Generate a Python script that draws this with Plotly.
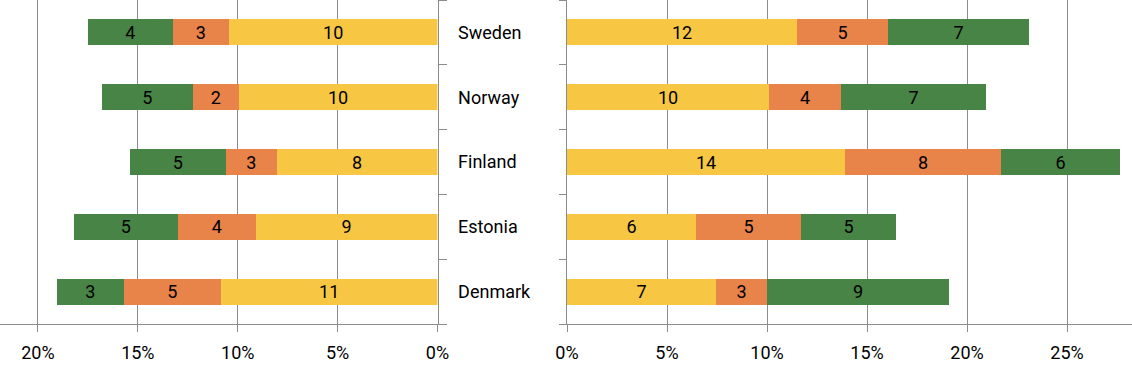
import plotly.graph_objects as go

countries = ["Sweden", "Norway", "Finland", "Estonia", "Denmark"]

left_yellow = [10.45, 9.95, 8.05, 9.1, 10.85]
left_orange = [2.8, 2.3, 2.55, 3.9, 4.85]
left_green = [4.25, 4.55, 4.8, 5.2, 3.35]

right_yellow = [11.5, 10.1, 13.9, 6.45, 7.45]
right_orange = [4.55, 3.6, 7.8, 5.25, 2.55]
right_green = [7.05, 7.25, 5.95, 4.75, 9.1]

left_ticks = [20, 15, 10, 5, 0]
right_ticks = [0, 5, 10, 15, 20, 25]

YELLOW = "#F7C744"
ORANGE = "#E8834A"
GREEN = "#478445"
GRID = "#8C8C8C"
FONT = "Roboto"
FS = 18

fig = go.Figure()

def add(vals, color, xa):
    fig.add_trace(go.Bar(
        y=countries, x=vals, orientation="h", marker_color=color,
        marker_line_width=0, width=0.4, xaxis=xa, yaxis="y" if xa == "x" else "y2",
        texttemplate="%{x:.0f}", textposition="inside", insidetextanchor="middle",
        textangle=0,
        textfont=dict(color="black", size=FS, family=FONT), constraintext="none",
        showlegend=False, hoverinfo="skip"))

add(left_yellow, YELLOW, "x")
add(left_orange, ORANGE, "x")
add(left_green, GREEN, "x")
add(right_yellow, YELLOW, "x2")
add(right_orange, ORANGE, "x2")
add(right_green, GREEN, "x2")

W, H = 1132, 377
left_end = 437.5 / W
right_start = 567 / W

fig.update_layout(
    width=W, height=H, barmode="stack", bargap=0.6,
    margin=dict(l=0, r=0, t=0, b=53, autoexpand=False),
    paper_bgcolor="white", plot_bgcolor="white",
    font=dict(family=FONT, size=FS, color="black"),
    xaxis=dict(domain=[0, left_end], range=[21.9, 0], tickvals=left_ticks,
               ticktext=[f"{v}%" for v in left_ticks],
               showgrid=True, gridcolor=GRID, gridwidth=1, zeroline=False,
               showline=True, linecolor=GRID, linewidth=1,
               ticks="outside", ticklen=7, tickcolor=GRID, automargin=False,
               ticklabelstandoff=5,
               tickfont=dict(size=FS, family=FONT), anchor="y"),
    xaxis2=dict(domain=[right_start, 1], range=[0, 28.25], tickvals=right_ticks,
                ticktext=[f"{v}%" for v in right_ticks],
                showgrid=True, gridcolor=GRID, gridwidth=1, zeroline=False,
                showline=True, linecolor=GRID, linewidth=1,
                ticks="outside", ticklen=7, tickcolor=GRID, automargin=False,
                ticklabelstandoff=5,
                tickfont=dict(size=FS, family=FONT), anchor="y2"),
    yaxis=dict(categoryorder="array", categoryarray=countries[::-1],
               anchor="x", side="right", showline=True, linecolor=GRID, linewidth=1,
               ticks="outside", ticklen=8, tickcolor=GRID, tickson="boundaries",
               showgrid=False, tickfont=dict(size=FS, family=FONT), automargin=False,
               ticklabelstandoff=16, range=[-0.5, 4.5]),
    yaxis2=dict(matches="y", anchor="x2", side="left", showline=True,
                linecolor=GRID, linewidth=1, ticks="outside", ticklen=7,
                tickcolor=GRID, tickson="boundaries", showgrid=False, automargin=False,
                showticklabels=False),
)

fig.write_html("out.html", config={"displayModeBar": False},
               post_script="document.body.style.margin='0px';document.body.style.overflow='hidden';")
